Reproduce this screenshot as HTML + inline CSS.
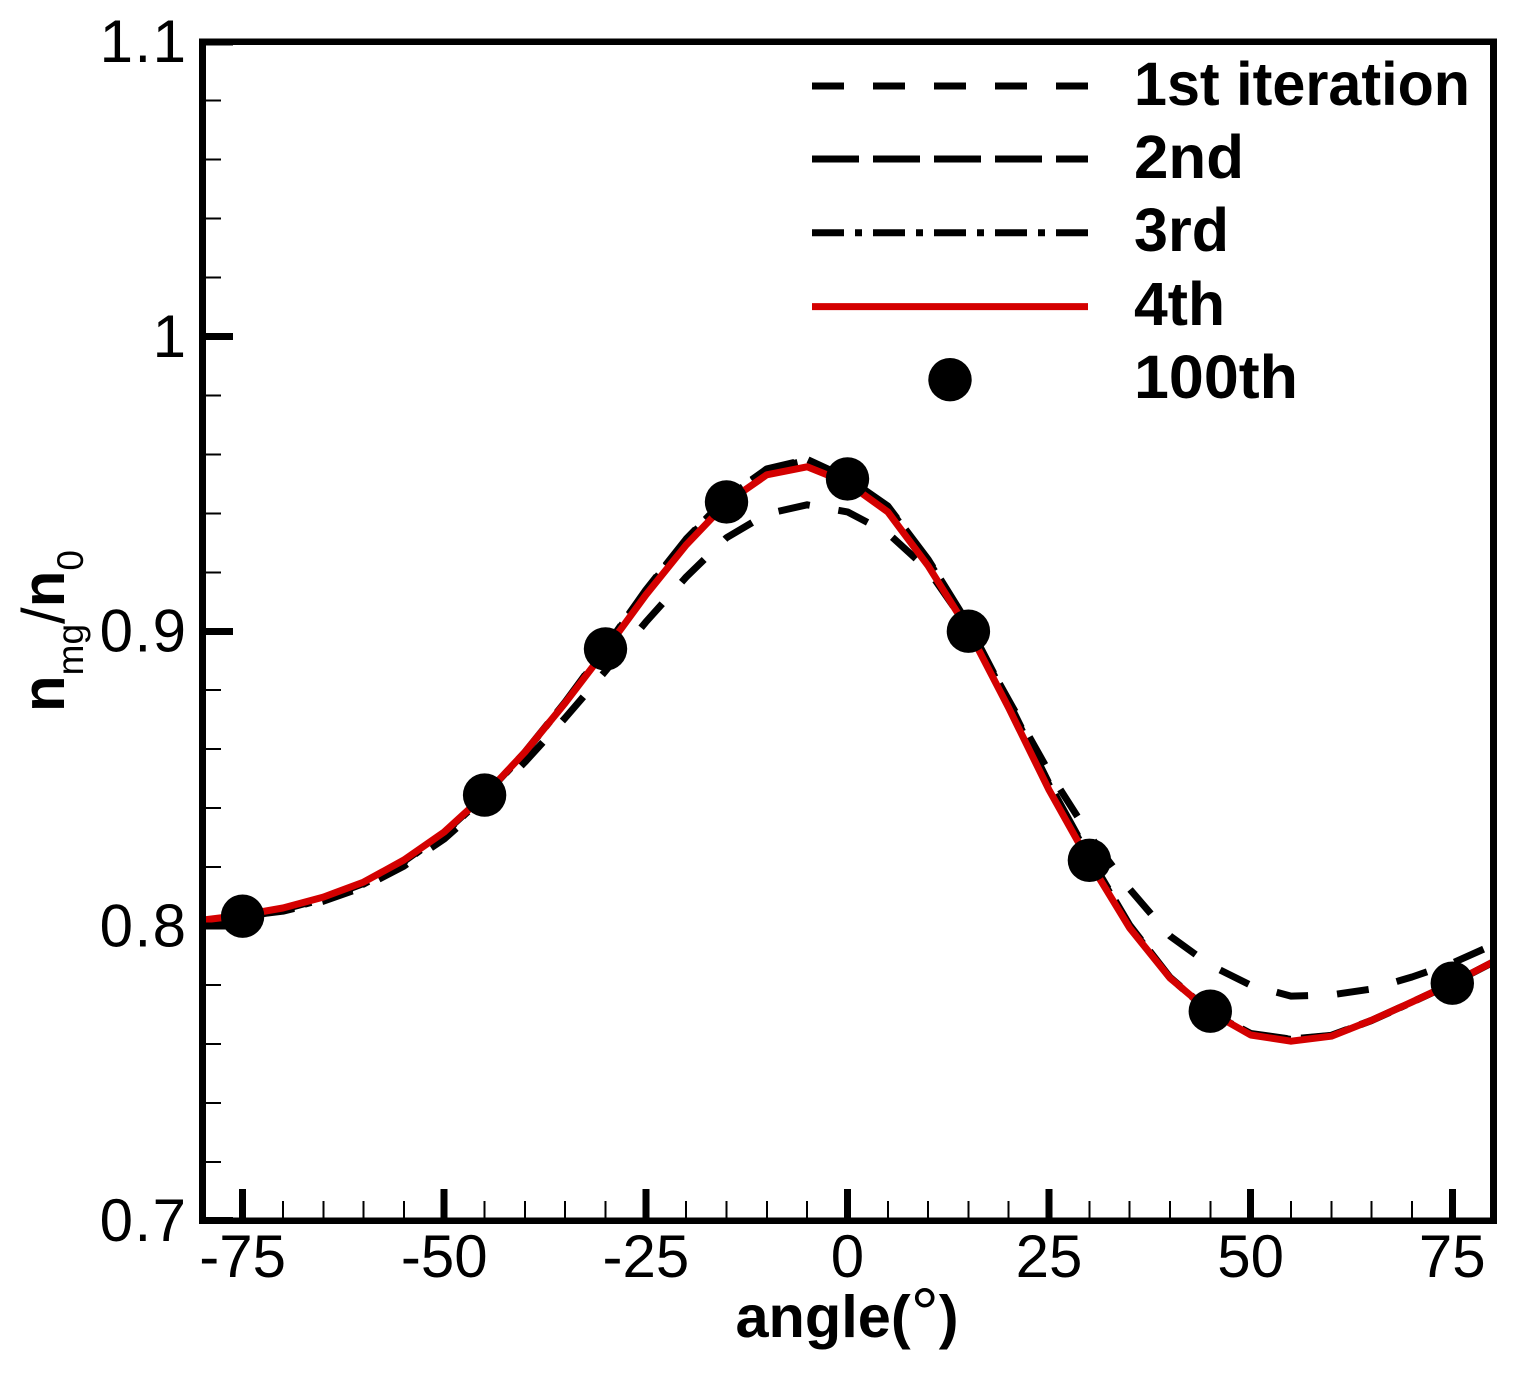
<!DOCTYPE html>
<html lang="en">
<head>
<meta charset="utf-8">
<title>Normalized density vs angle</title>
<style>
  html, body { margin: 0; padding: 0; background: #fff; }
  svg { display: block; }
  text { font-family: "Liberation Sans", sans-serif; fill: #000; }
</style>
</head>
<body>
<svg id="chart" xmlns="http://www.w3.org/2000/svg" width="1535" height="1385" viewBox="0 0 1535 1385">
  <rect x="0" y="0" width="1535" height="1385" fill="#fff"/>
  <defs>
    <clipPath id="plot-clip"><rect x="202" y="42" width="1292" height="1179"/></clipPath>
  </defs>
  <g id="series-layer" clip-path="url(#plot-clip)"></g>
  <g id="tick-layer"></g>
  <rect x="202.4" y="41.8" width="1291" height="1178.9" fill="none" stroke="#000" stroke-width="6.8" shape-rendering="crispEdges"/>
  <g id="label-layer"></g>

  <text x="847" y="1337" font-size="59.5" font-weight="bold" text-anchor="middle">angle(<tspan font-weight="normal" font-size="70">°</tspan>)</text>
  <text transform="translate(64 712) rotate(-90)" font-size="60"><tspan font-weight="bold">n</tspan><tspan font-size="37" dy="19">mg</tspan><tspan dy="-19">/</tspan><tspan font-weight="bold">n</tspan><tspan font-size="37" dy="19">0</tspan></text>

  <g>
    <g>
      <line x1="812" x2="1088" y1="86" y2="86" stroke="#000" stroke-width="7" stroke-dasharray="32 29"/>
      <text x="1134" y="105" font-size="61" font-weight="bold" textLength="336" lengthAdjust="spacingAndGlyphs">1st iteration</text>
    </g>
    <g>
      <line x1="812" x2="1088" y1="159" y2="159" stroke="#000" stroke-width="7" stroke-dasharray="47 14"/>
      <text x="1134" y="178" font-size="61" font-weight="bold" textLength="110" lengthAdjust="spacingAndGlyphs">2nd</text>
    </g>
    <g>
      <line x1="812" x2="1088" y1="232.7" y2="232.7" stroke="#000" stroke-width="7" stroke-dasharray="32 11 7 11"/>
      <text x="1134" y="251" font-size="61" font-weight="bold" textLength="95" lengthAdjust="spacingAndGlyphs">3rd</text>
    </g>
    <g>
      <line x1="812" x2="1088" y1="306.6" y2="306.6" stroke="#d40000" stroke-width="7"/>
      <text x="1134" y="325" font-size="61" font-weight="bold" textLength="91" lengthAdjust="spacingAndGlyphs">4th</text>
    </g>
    <g>
      <circle cx="950" cy="379.7" r="21.7" fill="#000"/>
      <text x="1134" y="398" font-size="61" font-weight="bold" textLength="164" lengthAdjust="spacingAndGlyphs">100th</text>
    </g>
  </g>
</svg>

<script>
// Chart data
const angles = [-80,-75,-70,-65,-60,-55,-50,-45,-40,-35,-30,-25,-20,-15,-10,-5,0,5,10,15,20,25,30,35,40,45,50,55,60,65,70,75,80];
const iteration1 = [.8010,.8034,.8050,.8084,.8132,.8203,.8295,.8417,.8556,.8706,.8865,.9031,.9184,.9317,.9398,.9429,.9405,.9333,.9208,.9011,.8766,.8522,.8308,.8125,.7966,.7867,.7799,.7762,.7766,.7786,.7827,.7874,.7935];
const iteration2 = [.8015,.8032,.8056,.8093,.8144,.8219,.8316,.8442,.8590,.8760,.8946,.9140,.9313,.9453,.9551,.9583,.9520,.9425,.9244,.9024,.8760,.8483,.8235,.8003,.7826,.7708,.7635,.7616,.7629,.7680,.7742,.7806,.7877];
const iteration3 = [.8012,.8030,.8054,.8091,.8142,.8217,.8314,.8440,.8588,.8758,.8944,.9137,.9310,.9450,.9548,.9580,.9518,.9422,.9240,.9020,.8755,.8478,.8230,.7999,.7824,.7706,.7634,.7615,.7628,.7679,.7741,.7805,.7876];
const iteration4 = [.8020,.8037,.8061,.8098,.8149,.8224,.8319,.8444,.8590,.8757,.8936,.9123,.9293,.9436,.9531,.9558,.9503,.9405,.9222,.9004,.8740,.8461,.8217,.7993,.7823,.7708,.7630,.7609,.7626,.7680,.7742,.7806,.7877];
const markerAngles = [-75,-45,-30,-15,0,15,30,45,75];
const iteration100 = [.8033,.8444,.8940,.9439,.9517,.9000,.8223,.7711,.7806];
const xMajorTicks = [-75,-50,-25,0,25,50,75];
const xMinorTicks = [-70,-65,-60,-55,-45,-40,-35,-30,-20,-15,-10,-5,5,10,15,20,30,35,40,45,55,60,65,70];
const yMajorTicks = [0.7,0.8,0.9,1.0,1.1];
const yMinorTicks = [0.72,0.74,0.76,0.78,0.82,0.84,0.86,0.88,0.92,0.94,0.96,0.98,1.02,1.04,1.06,1.08];
const xTickLabels = ["-75","-50","-25","0","25","50","75"];
const yTickLabels = ["0.7","0.8","0.9","1","1.1"];

// Axis functions
const xLeft = 202.3, xRight = 1492.6, yBottom = 1220.7, yTop = 41.8;
function xScale(a) { return xLeft + (a + 80) / 160 * (xRight - xLeft); }
function yScale(v) { return yBottom - (v - 0.7) / 0.4 * (yBottom - yTop); }

const NS = "http://www.w3.org/2000/svg";
const seriesLayer = document.getElementById("series-layer");
const tickLayer = document.getElementById("tick-layer");
const labelLayer = document.getElementById("label-layer");

function drawCurve(values, name, color, dash) {
  const p = document.createElementNS(NS, "polyline");
  
  
  p.setAttribute("points", values.map((v, i) => xScale(angles[i]).toFixed(1) + "," + yScale(v).toFixed(1)).join(" "));
  p.setAttribute("fill", "none");
  p.setAttribute("stroke", color);
  p.setAttribute("stroke-width", "7");
  p.setAttribute("stroke-linejoin", "round");
  if (dash) p.setAttribute("stroke-dasharray", dash);
  seriesLayer.appendChild(p);
}
drawCurve(iteration1, "curve-1st-iteration", "#000", "32 29");
drawCurve(iteration2, "curve-2nd-iteration", "#000", "47 14");
drawCurve(iteration3, "curve-3rd-iteration", "#000", "32 11 7 11");
drawCurve(iteration4, "curve-4th-iteration", "#d40000", null);

markerAngles.forEach((a, i) => {
  const c = document.createElementNS(NS, "circle");
  
  
  c.setAttribute("cx", xScale(a).toFixed(1));
  c.setAttribute("cy", yScale(iteration100[i]).toFixed(1));
  c.setAttribute("r", "21.7");
  c.setAttribute("fill", "#000");
  seriesLayer.appendChild(c);
});

function drawTick(x1, y1, x2, y2, w, name) {
  const l = document.createElementNS(NS, "line");
  
  
  l.setAttribute("x1", x1); l.setAttribute("y1", y1);
  l.setAttribute("x2", x2); l.setAttribute("y2", y2);
  l.setAttribute("stroke", "#000");
  l.setAttribute("stroke-width", w);
  l.setAttribute("shape-rendering", "crispEdges");
  tickLayer.appendChild(l);
}
xMajorTicks.forEach(t => drawTick(xScale(t), yBottom, xScale(t), 1189, 7, "x-major-tick"));
xMinorTicks.forEach(t => drawTick(xScale(t), yBottom, xScale(t), 1201, 2, "x-minor-tick"));
yMajorTicks.forEach(t => drawTick(xLeft, yScale(t), 233, yScale(t), 7, "y-major-tick"));
yMinorTicks.forEach(t => drawTick(xLeft, yScale(t), 221, yScale(t), 2, "y-minor-tick"));

function drawLabel(x, y, s, anchor, name, spacing) {
  const t = document.createElementNS(NS, "text");
  
  
  t.setAttribute("x", x);
  t.setAttribute("y", y);
  t.setAttribute("font-size", "60");
  t.setAttribute("text-anchor", anchor);
  if (spacing) t.setAttribute("letter-spacing", spacing);
  t.textContent = s;
  labelLayer.appendChild(t);
}
xMajorTicks.forEach((t, i) => drawLabel(xScale(t), 1277, xTickLabels[i], "middle", "x-tick-label", 0));
yMajorTicks.forEach((t, i) => drawLabel(187.5, yScale(t) + 20.3, yTickLabels[i], "end", "y-tick-label", 1.5));
</script>
</body>
</html>
